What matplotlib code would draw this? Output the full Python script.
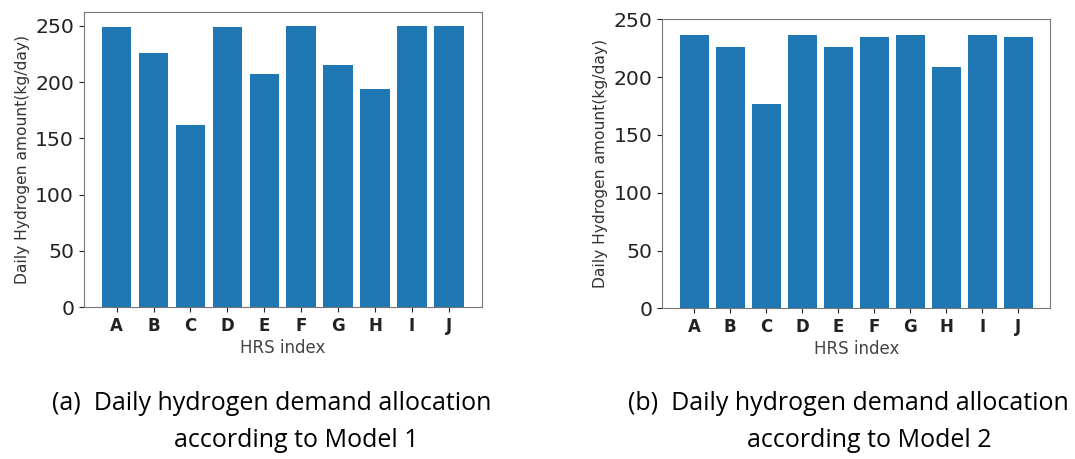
import matplotlib
matplotlib.use("Agg")
from matplotlib import pyplot as plt

plt.rcParams['font.family'] = ['DejaVu Sans']

stations = ['A', 'B', 'C', 'D', 'E', 'F', 'G', 'H', 'I', 'J']
model1 = [249, 226, 162, 249, 207, 250, 215, 194, 250, 250]
model2 = [236, 226, 177, 236, 226, 235, 236, 209, 236, 235]

captions = [("(a)  Daily hydrogen demand allocation", "according to Model 1"),
            ("(b)  Daily hydrogen demand allocation", "according to Model 2")]

fig = plt.figure(figsize=(10.75, 4.59), dpi=100)
ax1 = fig.add_axes([0.078, 0.331, 0.370, 0.643])
ax2 = fig.add_axes([0.616, 0.328, 0.361, 0.630])

for ax, vals, top in [(ax1, model1, 262.5), (ax2, model2, 250)]:
    ax.bar(stations, vals, color='#1f77b4')
    ax.set_ylim(0, top)
    ax.set_yticks([0, 50, 100, 150, 200, 250])
    ax.tick_params(axis='y', labelsize=14.7, colors='#222222')
    ax.tick_params(axis='x', labelsize=12, colors='#222222')
    for lab in ax.get_xticklabels():
        lab.set_fontweight('bold')
    ax.set_xlabel('HRS index', fontsize=12, color='#444444', labelpad=3)
    ax.set_ylabel('Daily Hydrogen amount(kg/day)', fontsize=11.2, color='#333333')
    for s in ax.spines.values():
        s.set_color('#777777')

# captions under each panel, two lines each
cap_font = ['Open Sans', 'DejaVu Sans']
fig.text(0.2526, 0.122, captions[0][0], ha='center', va='center', fontsize=18, family=cap_font)
fig.text(0.2755, 0.041, captions[0][1], ha='center', va='center', fontsize=18, family=cap_font)
fig.text(0.789, 0.122, captions[1][0], ha='center', va='center', fontsize=18, family=cap_font)
fig.text(0.809, 0.041, captions[1][1], ha='center', va='center', fontsize=18, family=cap_font)

fig.savefig('out.png', dpi=100)
